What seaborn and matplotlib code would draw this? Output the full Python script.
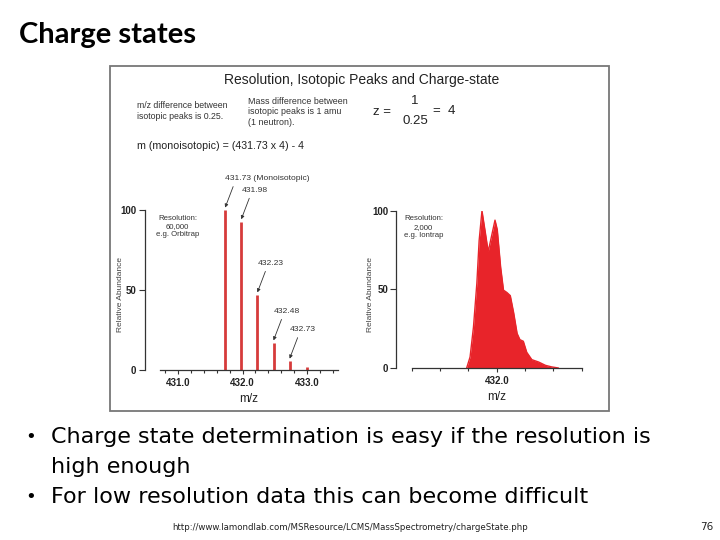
import matplotlib
matplotlib.use("Agg")
import numpy as np
import pandas as pd
import matplotlib.pyplot as plt
from matplotlib.patches import Rectangle
import seaborn as sns

# high resolution spectrum (stick peaks)
hr_mz = [431.73, 431.98, 432.23, 432.48, 432.73, 433.00]
hr_abund = [100, 92.7, 47, 17, 5.6, 1.7]
hr_labels = ["431.73 (Monoisotopic)", "431.98", "432.23", "432.48", "432.73", ""]

# low resolution spectrum (profile)
lr_mz = [431.47, 431.53, 431.59, 431.65, 431.69, 431.74, 431.80, 431.85, 431.91,
         431.97, 432.01, 432.07, 432.12, 432.18, 432.24, 432.30, 432.36, 432.41,
         432.47, 432.53, 432.62, 432.74, 432.86, 432.97, 433.09]
lr_abund = [0, 7, 26, 54, 81, 100, 86, 74, 84,
            94, 88, 64, 49.5, 48, 46, 35, 22, 18,
            17, 10, 5.3, 3.8, 1.7, 0.7, 0]

W, H = 720, 540
ARIAL = ["Liberation Sans", "DejaVu Sans"]
TICKF = ["Liberation Sans Narrow", "Liberation Sans", "DejaVu Sans"]


def fp(x, y):
    # slide pixel (top-left origin) -> figure fraction
    return x / W, 1 - y / H


def style_axis(ax, xlim, major, minor, labels):
    # despine first: moving a spine resets the tick settings
    sns.despine(ax=ax, offset={"left": 11, "bottom": 0})
    ax.set_xlim(*xlim)
    ax.set_ylim(0, 100)
    ax.set_yticks([0, 50, 100])
    ax.set_yticklabels(["0", "50", "100"])
    ax.set_xticks(major)
    ax.set_xticklabels(labels)
    ax.set_xticks(minor, minor=True)
    for t in ax.get_xticklabels() + ax.get_yticklabels():
        t.set_fontsize(7)
        t.set_fontweight("bold")
        t.set_family(TICKF)
        t.set_color("#222222")
    ax.tick_params(axis="both", which="both", direction="out", color="#333333",
                   width=0.8, bottom=True, left=True)
    ax.tick_params(axis="x", which="major", length=3, pad=3)
    ax.tick_params(axis="x", which="minor", length=2)
    ax.tick_params(axis="y", length=4, pad=2)
    ax.set_xlabel("m/z", fontsize=8.5, family=ARIAL, color="#222222", labelpad=3)
    ax.set_ylabel("Relative Abundance", fontsize=6, family=ARIAL,
                  color="#444444", labelpad=6)
    for s in ["left", "bottom"]:
        ax.spines[s].set_color("#333333")
        ax.spines[s].set_linewidth(0.9)
    ax.patch.set_alpha(0)


sns.set_theme(style="white")
fig = plt.figure(figsize=(7.2, 5.4), dpi=100)

# slide title
fig.text(*fp(19, 35), "Charge states", fontsize=21, fontweight="bold",
         family=["Lato", "DejaVu Sans"], ha="left", va="center", color="black")

# embedded figure frame
fig.add_artist(Rectangle(fp(110, 411), 499 / W, 345 / H, fill=False,
                         ec="#777777", lw=1.3, transform=fig.transFigure))

fig.text(*fp(362, 80), "Resolution, Isotopic Peaks and Charge-state",
         fontsize=10, family=ARIAL, ha="center", va="center", color="#222222")
fig.text(*fp(137, 111), "m/z difference between\nisotopic peaks is 0.25.",
         fontsize=6.3, family=ARIAL, ha="left", va="center", color="#333333",
         linespacing=1.2)
fig.text(*fp(248, 112), "Mass difference between\nisotopic peaks is 1 amu\n(1 neutron).",
         fontsize=6.4, family=ARIAL, ha="left", va="center", color="#333333",
         linespacing=1.2)
fig.text(*fp(373, 112), "z =", fontsize=9.5, family=ARIAL, ha="left",
         va="center", color="#222222")
fig.text(*fp(415, 101), "1", fontsize=9.5, family=ARIAL, ha="center",
         va="center", color="#222222")
fig.text(*fp(415, 121), "0.25", fontsize=9.5, family=ARIAL, ha="center",
         va="center", color="#222222")
fig.text(*fp(433, 111), "=  4", fontsize=9.5, family=ARIAL, ha="left",
         va="center", color="#222222")
fig.text(*fp(137, 146), "m (monoisotopic) = (431.73 x 4) - 4", fontsize=7.7,
         family=ARIAL, ha="left", va="center", color="#222222")

# left panel: high resolution
ax1 = fig.add_axes([160 / W, (H - 370) / H, 178 / W, 160 / H])
ax1.vlines(hr_mz, 0, hr_abund, color="#d63b3b", lw=2)
for mz, ab, lab in zip(hr_mz, hr_abund, hr_labels):
    if not lab:
        continue
    ax1.annotate("", xy=(mz, ab + 1.5), xytext=(8, 21), textcoords="offset pixels",
                 arrowprops=dict(arrowstyle="-|>", lw=0.6, color="#333333",
                                 mutation_scale=5, shrinkA=0, shrinkB=0),
                 annotation_clip=False)
    ax1.annotate(lab, xy=(mz, ab + 1.5), xytext=(0, 29), textcoords="offset pixels",
                 fontsize=6.1, family=ARIAL, color="#333333", ha="left",
                 va="center", annotation_clip=False)
ax1.text(0.1, 0.97, "Resolution:\n60,000\ne.g. Orbitrap", transform=ax1.transAxes,
         fontsize=5.6, family=ARIAL, color="#333333", ha="center", va="top",
         linespacing=1.25)
style_axis(ax1, (430.72, 433.48), [431.0, 432.0, 433.0],
           np.arange(430.8, 433.5, 0.2), ["431.0", "432.0", "433.0"])
ax1.yaxis.set_label_coords(-0.20, 0.47)

# right panel: low resolution
ax2 = fig.add_axes([411.7 / W, (H - 368) / H, 170 / W, 157.3 / H])
ax2.fill_between(lr_mz, lr_abund, color="#e8242a", lw=0)
sns.lineplot(x=lr_mz, y=lr_abund, ax=ax2, color="#e8242a", lw=1.0)
ax2.text(0.07, 0.97, "Resolution:\n2,000\ne.g. Iontrap", transform=ax2.transAxes,
         fontsize=5.6, family=ARIAL, color="#333333", ha="center", va="top",
         linespacing=1.25)
style_axis(ax2, (430.5, 433.5), [432.0], np.arange(430.5, 433.6, 0.5), ["432.0"])
ax2.yaxis.set_label_coords(-0.22, 0.47)

# bullets
bullets = [(437, "•", "Charge state determination is easy if the resolution is"),
           (467, "", "high enough"),
           (497, "•", "For low resolution data this can become difficult")]
for y, b, t in bullets:
    if b:
        fig.text(*fp(31, y), b, fontsize=13, family=["DejaVu Sans"],
                 ha="center", va="center", color="black")
    fig.text(*fp(51, y), t, fontsize=16, family=["DejaVu Sans"],
             ha="left", va="center", color="black")

fig.text(*fp(350, 527),
         "http://www.lamondlab.com/MSResource/LCMS/MassSpectrometry/chargeState.php",
         fontsize=6.2, family=["DejaVu Sans"], ha="center", va="center",
         color="#222222")
fig.text(*fp(707, 527), "76", fontsize=7.5, family=["DejaVu Sans"],
         ha="center", va="center", color="#222222")

fig.savefig("out.png", dpi=100)
